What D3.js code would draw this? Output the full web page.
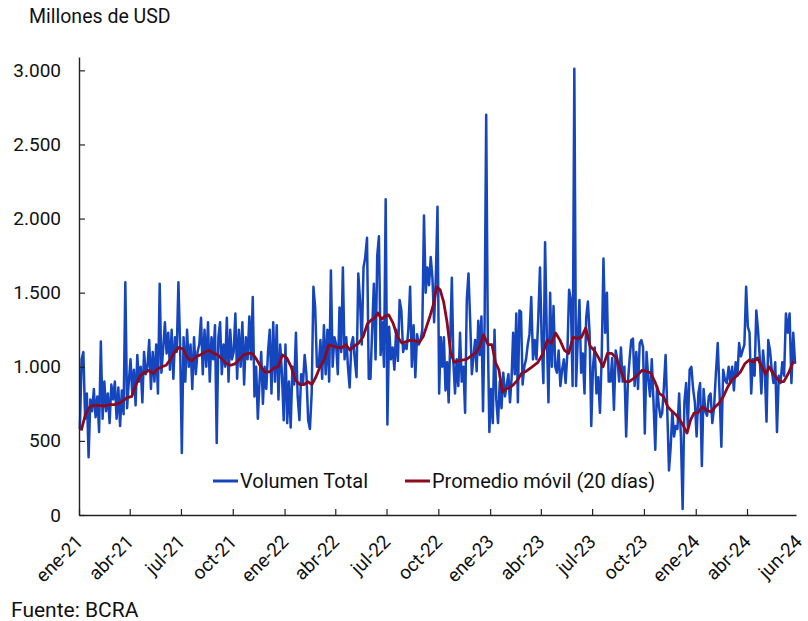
<!DOCTYPE html>
<html>
<head>
<meta charset="utf-8">
<script src="https://cdn.jsdelivr.net/npm/d3@7"></script>
<style>
  body { margin: 0; background: #fff; }
  svg { font-family: Roboto, "Noto Sans", sans-serif; }
</style>
</head>
<body>
<svg width="808" height="621"></svg>
<script>
// meses de la serie (cada fila de datos corresponde a un mes)
var meses = ["2021-01","2021-02","2021-03","2021-04","2021-05","2021-06","2021-07","2021-08","2021-09","2021-10","2021-11","2021-12",
             "2022-01","2022-02","2022-03","2022-04","2022-05","2022-06","2022-07","2022-08","2022-09","2022-10","2022-11","2022-12",
             "2023-01","2023-02","2023-03","2023-04","2023-05","2023-06","2023-07","2023-08","2023-09","2023-10","2023-11","2023-12",
             "2024-01","2024-02","2024-03","2024-04","2024-05","2024-06"];

var volumen = [
  [580,1050,1100,650,820,390,780,700,850,660],
  [800,560,1170,650,900,700,820,620,880],
  [780,900,650,860,600,840,680,1570,720,900],
  [1050,820,980,740,1080,900,1000,760,1100,950],
  [1000,1180,850,1100,900,1150,820,1560,960,1120],
  [1300,1090,1230,980,1250,920,1200,1100,1570,1150],
  [418,1200,900,1250,1000,1150,850,1200,950,1100],
  [1150,1330,950,1250,1000,1300,900,1200,1050,1280],
  [486,1200,1300,950,1150,1000,1330,900,1250,1050],
  [1100,1360,920,1250,1000,1300,880,1200,1050,1340],
  [1050,1470,800,1000,650,900,1100,750,1000,850],
  [1100,1250,820,1300,900,1280,780,1150,950,640],
  [1150,620,900,590,1000,880,1230,800,640,950],
  [880,1080,950,640,580,820,1540,1400,1000],
  [1000,1180,920,1280,950,1250,900,1650,1000,1200],
  [1150,950,1400,1100,1670,1050,1200,1000,860,1150],
  [1200,1050,930,1630,1450,1150,1670,1740,1870,920],
  [920,1250,1560,1050,1750,1880,1080,1300,1000,2130],
  [610,1270,1050,1130,980,1250,1040,1450,1380,1100],
  [1150,1120,1250,1540,1000,1280,930,1220,1150,1180],
  [1250,2020,1500,1670,1550,1740,1600,1300,1600,2080],
  [820,1200,1000,1200,840,1030,760,1180,1600,1030,820],
  [1050,870,1230,900,1000,690,1450,1630,1310,950],
  [1070,1180,970,1310,1080,1340,700,1300,2700,1220,560],
  [850,620,1250,780,620,900,720,960,800,880],
  [950,760,920,1230,950,1360,760,1380,1370,880],
  [1000,1050,1150,1220,1470,1050,1180,1050,1320,1670],
  [1180,890,1840,1230,760,1500,1000,1410,1000,960],
  [1110,870,980,1050,890,1090,1520,1450,870,3010],
  [870,1180,1450,960,1090,820,1330,1440,1230,600],
  [1000,1130,820,930,690,1070,1730,1230,1500,900],
  [900,1060,710,1110,1050,900,1130,900,1000,530],
  [890,1050,1180,1190,870,1100,850,1160,1180,1130],
  [550,1100,920,800,1050,760,440,870,740,660],
  [690,870,1080,700,300,460,700,530,600,580],
  [820,530,40,760,890,590,980,1000,850,760],
  [530,820,890,330,850,700,670,800,820,620],
  [730,960,1160,820,460,980,910,890,1000],
  [890,1000,840,1030,940,1160,1070,1110,1150,1540],
  [1270,1230,820,1050,940,1380,1250,1070,820,1110],
  [980,630,1180,1110,980,890,1030,560,940,890],
  [1030,940,1360,1230,1360,890,1230,1020]
];

// Promedio móvil de 20 días
var promedio = [
  [570,680,730,740],
  [740,735,745],
  [745,760,790],
  [800,880,940,960],
  [975,955,985,1000],
  [1010,1050,1100,1130],
  [1120,1060,1040,1070],
  [1080,1100,1110,1090],
  [1080,1050,1020,1010],
  [1020,1050,1080,1090],
  [1090,1050,1000,965],
  [965,990,1000,1080],
  [1060,1000,910,880],
  [880,900,880,930],
  [1000,1050,1147,1140],
  [1130,1127,1150,1113],
  [1140,1160,1203,1290],
  [1316,1330,1363,1320,1340],
  [1350,1294,1203,1160],
  [1170,1180,1175,1165],
  [1203,1271,1339,1417,1540],
  [1520,1440,1300,1100,1030],
  [1040,1045,1050,1070],
  [1090,1130,1215,1150],
  [1150,1030,980,830,850],
  [860,880,910,955],
  [970,1000,1030],
  [1090,1180,1160,1228],
  [1180,1113,1090,1200],
  [1190,1200,1262,1140],
  [1110,1060,1000,1090],
  [1090,1060,980,900],
  [900,920,945,975],
  [970,960,900,820],
  [800,730,700,675],
  [640,600,553,640,688],
  [690,730,709,695],
  [730,756,800,860],
  [911,935,965,1020],
  [1046,1030,1060,1000],
  [950,1000,960,930,900],
  [900,960,1040]
];

var etiquetasX = ["ene-21","abr-21","jul-21","oct-21","ene-22","abr-22","jul-22","oct-22","ene-23","abr-23","jul-23","oct-23","ene-24","abr-24","jun-24"];
var fechasX = ["2021-01-01","2021-04-01","2021-07-01","2021-10-01","2022-01-01","2022-04-01","2022-07-01","2022-10-01",
               "2023-01-01","2023-04-01","2023-07-01","2023-10-01","2024-01-01","2024-04-01","2024-07-01"];
var valoresY = [0, 500, 1000, 1500, 2000, 2500, 3000];
var etiquetasY = ["0", "500", "1.000", "1.500", "2.000", "2.500", "3.000"];

var azul = "#1646bd",
    rojo = "#8c0a1f";

var parseMes = d3.timeParse("%Y-%m"),
    parseDia = d3.timeParse("%Y-%m-%d");
var inicio = new Date(2021, 0, 1),
    fin = new Date(2024, 5, 27);

// reparte los valores de cada mes a lo largo del mes
function aPuntos(listas) {
  var pts = [];
  listas.forEach(function(vals, m) {
    var ini = parseMes(meses[m]);
    var sig = d3.timeMonth.offset(ini, 1);
    if (sig > fin) sig = fin;
    vals.forEach(function(v, i) {
      pts.push({ fecha: new Date(+ini + (sig - ini) * (i + 0.5) / vals.length), valor: v });
    });
  });
  return pts;
}

var serieVol = aPuntos(volumen),
    serieProm = aPuntos(promedio);

var svg = d3.select("svg");

var x = d3.scaleTime().domain([inicio, fin]).range([79, 796]);
var y = d3.scaleLinear().domain([0, 3090]).range([515, 57]);

var linea = d3.line()
  .x(function(d) { return x(d.fecha); })
  .y(function(d) { return y(d.valor); });

// series
svg.append("path")
  .datum(serieVol)
  .attr("fill", "none")
  .attr("stroke", azul)
  .attr("stroke-width", 2.5)
  .attr("stroke-linejoin", "round")
  .attr("d", linea);

svg.append("path")
  .datum(serieProm)
  .attr("fill", "none")
  .attr("stroke", rojo)
  .attr("stroke-width", 2.8)
  .attr("stroke-linejoin", "round")
  .attr("d", linea);

// eje Y
var ejeY = svg.append("g")
  .attr("transform", "translate(79,0)")
  .call(d3.axisLeft(y)
    .tickValues(valoresY)
    .tickSize(-6)
    .tickSizeOuter(0)
    .tickPadding(18)
    .tickFormat(function(d, i) { return etiquetasY[i]; }));

// eje X (marcas sin texto; las etiquetas van rotadas aparte)
var ejeX = svg.append("g")
  .attr("transform", "translate(0,515)")
  .call(d3.axisBottom(x)
    .tickValues(fechasX.slice(0, -1).map(parseDia))
    .tickSize(-6)
    .tickSizeOuter(0)
    .tickFormat(""));

[ejeY, ejeX].forEach(function(g) {
  g.select(".domain").attr("stroke", "#222").attr("stroke-width", 1.4);
  g.selectAll(".tick line").attr("stroke", "#222").attr("stroke-width", 1.2);
  g.selectAll(".tick text").attr("fill", "#111").style("font-size", "19px").style("font-family", "Roboto, sans-serif");
});

svg.append("g")
  .selectAll("text")
  .data(fechasX)
  .enter()
  .append("text")
  .attr("transform", function(d) { return "translate(" + (x(parseDia(d)) + 5) + ",543) rotate(-45)"; })
  .attr("text-anchor", "end")
  .attr("fill", "#111")
  .style("font-size", "19px")
  .text(function(d, i) { return etiquetasX[i]; });

// títulos
svg.append("text")
  .attr("x", 29).attr("y", 23)
  .attr("fill", "#111")
  .style("font-size", "19.5px")
  .text("Millones de USD");

svg.append("text")
  .attr("x", 11).attr("y", 617)
  .attr("fill", "#111")
  .style("font-size", "21px")
  .text("Fuente: BCRA");

// leyenda
var leyenda = [
  { nombre: "Volumen Total", color: azul, x: 213 },
  { nombre: "Promedio móvil (20 días)", color: rojo, x: 405 }
];
var ley = svg.append("g").selectAll("g")
  .data(leyenda)
  .enter()
  .append("g")
  .attr("transform", function(d) { return "translate(" + d.x + ",481)"; });
ley.append("line")
  .attr("x1", 0).attr("x2", 25)
  .attr("stroke", function(d) { return d.color; })
  .attr("stroke-width", 3);
ley.append("text")
  .attr("x", 27).attr("dy", "0.35em")
  .attr("fill", "#111")
  .style("font-size", "20px")
  .text(function(d) { return d.nombre; });
</script>
</body>
</html>
